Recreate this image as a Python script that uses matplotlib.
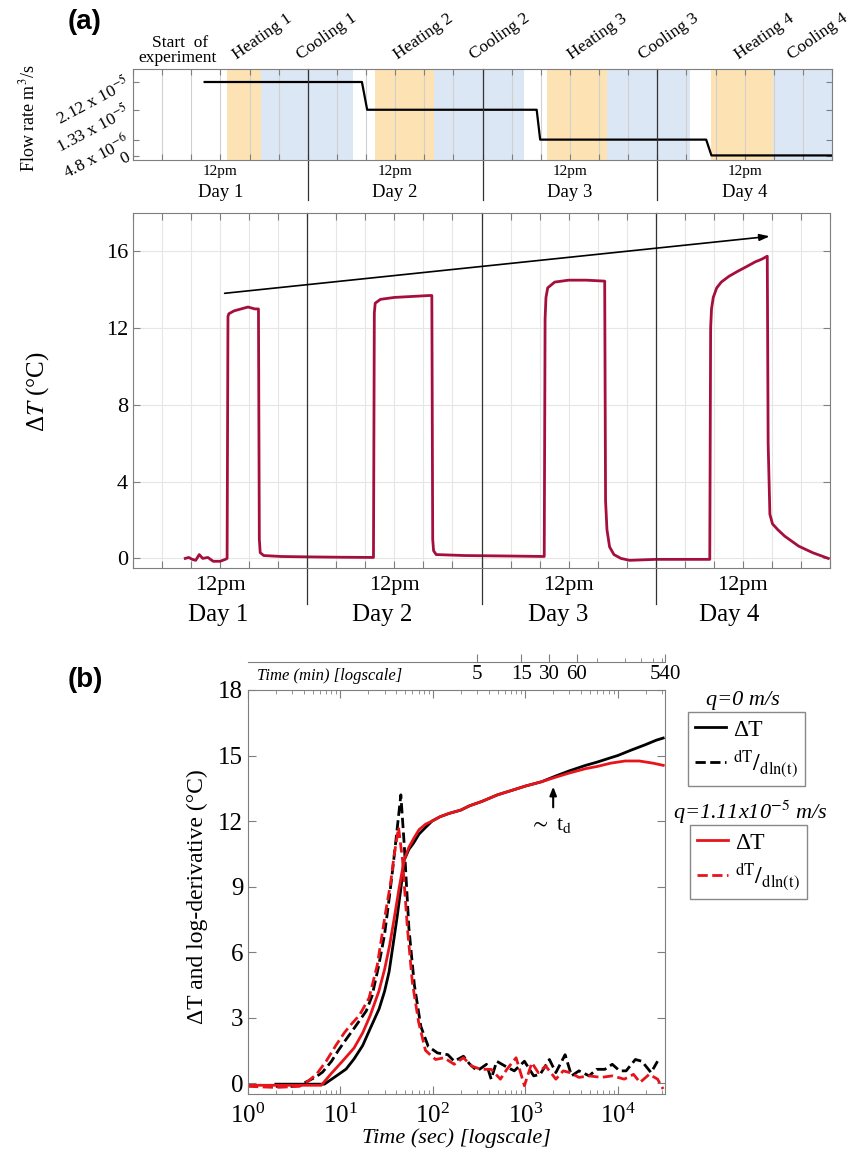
import numpy as np
import matplotlib.pyplot as plt
from matplotlib.lines import Line2D
from matplotlib.ticker import NullFormatter

plt.rcParams['font.family'] = ['Liberation Serif', 'DejaVu Serif']
plt.rcParams['mathtext.fontset'] = 'stix'

# ---------------- panel (a): time in days from start ----------------
heating = [(0.54, 0.73), (1.385, 1.72), (2.37, 2.71), (3.31, 3.66)]
cooling = [(0.73, 1.26), (1.72, 2.24), (2.71, 3.19), (3.66, 4.0)]
phase_names = ['Heating 1', 'Cooling 1', 'Heating 2', 'Cooling 2',
               'Heating 3', 'Cooling 3', 'Heating 4', 'Cooling 4']
day_names = ['Day 1', 'Day 2', 'Day 3', 'Day 4']

# flow rate, units of 1e-5 m3/s
flow_t = [0.41, 1.31, 1.34, 2.31, 2.33, 3.28, 3.31, 4.0]
flow_q = [2.12, 2.12, 1.33, 1.33, 0.48, 0.48, 0.03, 0.03]
flow_ticks = [0, 0.48, 1.33, 2.12]
flow_labels = ['0', '4.8 x 10$^{-6}$', '1.33 x 10$^{-5}$', '2.12 x 10$^{-5}$']

# temperature rise over the 4 days
dT_t = [0.30, 0.32, 0.34, 0.36, 0.38, 0.40, 0.43, 0.46, 0.50, 0.53, 0.54,
        0.545, 0.55, 0.58, 0.62, 0.66, 0.70, 0.72,
        0.725, 0.73, 0.75, 0.85, 1.0, 1.2, 1.38,
        1.385, 1.39, 1.42, 1.50, 1.60, 1.70, 1.715,
        1.72, 1.725, 1.74, 1.9, 2.2, 2.36,
        2.365, 2.37, 2.38, 2.42, 2.5, 2.6, 2.707,
        2.712, 2.72, 2.735, 2.76, 2.80, 2.85, 3.0, 3.31,
        3.315, 3.32, 3.33, 3.35, 3.376, 3.42, 3.47, 3.52, 3.57, 3.61, 3.64,
        3.645, 3.655, 3.67, 3.70, 3.74, 3.82, 3.90, 3.99]
dT_v = [0.0, 0.05, -0.05, -0.1, 0.2, 0.0, 0.05, -0.15, -0.15, -0.05, 0.0,
        12.6, 12.75, 12.9, 13.0, 13.1, 13.0, 13.0,
        1.0, 0.3, 0.15, 0.1, 0.08, 0.06, 0.05,
        12.8, 13.3, 13.5, 13.6, 13.65, 13.7, 13.7,
        1.0, 0.4, 0.2, 0.15, 0.12, 0.1,
        12.5, 13.6, 14.1, 14.4, 14.5, 14.5, 14.45,
        3.0, 1.5, 0.6, 0.2, 0.0, -0.1, -0.05, -0.05,
        12.0, 13.0, 13.6, 14.1, 14.4, 14.7, 14.96, 15.2, 15.45, 15.6, 15.75,
        6.0, 2.3, 1.8, 1.5, 1.16, 0.64, 0.3, 0.0]

# ---------------- panel (b): time in seconds ----------------
t_dT0 = [2, 3, 4, 5, 6.7, 8.5, 11.5, 14, 17.4, 21, 26.2, 30, 33.6, 37, 41, 45,
         48.8, 55, 62, 70.7, 83, 98, 120, 150, 200, 250, 340, 500, 710, 1000,
         1500, 2100, 3000, 4500, 6000, 8400, 10000, 14000, 20000, 26000, 31000]
v_dT0 = [-0.05, -0.05, -0.05, -0.05, -0.05, 0.25, 0.64, 1.1, 1.72, 2.5, 3.4,
         4.2, 5.1, 6.3, 7.6, 8.9, 10.2, 10.7, 11.0, 11.4, 11.7, 12.0, 12.2,
         12.35, 12.5, 12.7, 12.9, 13.2, 13.4, 13.6, 13.8, 14.05, 14.3, 14.55,
         14.7, 14.9, 15.0, 15.25, 15.5, 15.7, 15.8]

t_der0 = [2, 3, 3.6, 4.5, 5.5, 6.4, 8, 9.5, 11.5, 14, 19, 22, 26, 30, 34, 37,
          40, 45, 49, 55, 63, 74, 89, 112, 145, 170, 214, 251, 302, 380, 427,
          490, 603, 759, 977, 1230, 1445, 1820, 2138, 2692, 3162, 3802, 4898,
          5888, 7244, 8710, 10471, 12303, 15488, 18197, 22909, 26915]
v_der0 = [-0.15, -0.15, -0.1, 0.1, 0.3, 0.5, 1.0, 1.5, 2.0, 2.5, 3.3, 4.0,
          5.4, 6.8, 8.6, 9.9, 11.2, 13.2, 10.9, 7.1, 4.5, 2.6, 1.68, 1.38,
          1.3, 1.0, 1.23, 0.86, 0.56, 0.86, 0.18, 1.0, 0.78, 0.56, 1.0, 0.33,
          0.4, 1.08, 0.48, 1.3, 0.33, 0.56, 0.33, 0.63, 0.63, 0.86, 0.56,
          0.56, 1.08, 1.0, 0.48, 1.0]

t_dTq = [1, 2, 4, 6.2, 8, 10.5, 14, 17.4, 21, 26, 30, 34, 38, 43, 48.8, 55,
         62, 70.7, 83, 98, 120, 150, 200, 250, 340, 500, 710, 1000, 1500,
         2100, 3000, 4500, 6000, 8400, 12000, 17000, 24000, 31000]
v_dTq = [-0.1, -0.1, -0.1, -0.1, 0.45, 1.0, 1.6, 2.3, 3.1, 4.2, 5.2, 6.3,
         7.5, 8.9, 10.2, 10.8, 11.2, 11.6, 11.85, 12.0, 12.2, 12.35, 12.5,
         12.7, 12.9, 13.2, 13.4, 13.6, 13.8, 14.0, 14.2, 14.4, 14.5, 14.65,
         14.75, 14.75, 14.65, 14.55]

t_derq = [1, 2, 3.6, 4.5, 5.5, 7, 9, 11, 12.5, 16, 20.4, 25, 31, 35, 38, 42.5,
          47, 53, 60, 70, 83, 89, 107, 132, 170, 214, 263, 331, 427, 537, 631,
          794, 977, 1175, 1380, 1660, 2138, 2570, 3020, 3802, 4898, 6607,
          8710, 11749, 14791, 17378, 21878, 26915, 30903]
v_derq = [-0.15, -0.2, -0.15, 0.1, 0.4, 1.0, 1.75, 2.3, 2.6, 3.1, 3.9, 5.4,
          7.9, 9.2, 10.4, 11.7, 10.2, 7.1, 4.6, 2.8, 1.5, 1.38, 1.08, 1.16,
          0.86, 1.16, 0.78, 0.63, 0.63, 0.18, 0.63, 1.16, -0.12, 0.93, 0.48,
          0.78, 0.18, 0.56, 0.48, 0.26, 0.33, 0.26, 0.33, 0.18, 0.4, 0.03,
          0.4, 0.18, -0.27]

min_ticks = [5, 15, 30, 60, 540]
min_minor = [100, 200, 300, 400, 500]

orange = '#FDE3B3'
blue = '#DCE7F5'
crimson = '#A50F3D'
spine = '#7f7f7f'

W, H = 852, 1158
fig = plt.figure(figsize=(W / 100, H / 100), dpi=100)


def box(l, t, r, b):
    return [l / W, 1 - b / H, (r - l) / W, (b - t) / H]


def fx(px):
    return px / W


def fy(py):
    return 1 - py / H


# ---------- flow rate strip ----------
ax1 = fig.add_axes(box(133, 69, 832, 160))
for a, b in heating:
    ax1.axvspan(a, b, color=orange, lw=0)
for a, b in cooling:
    ax1.axvspan(a, b, color=blue, lw=0)
ax1.plot(flow_t, flow_q, color='k', lw=1.6)
ax1.set_xlim(0, 4)
ax1.set_ylim(-0.1, 2.49)
ax1.set_xticks(np.arange(0, 4.01, 1 / 6))
ax1.set_xticklabels([])
ax1.grid(axis='x', color='#d0d0d0', lw=0.8)
ax1.set_yticks(flow_ticks)
ax1.set_yticklabels(flow_labels, rotation=28, ha='right', va='center',
                    rotation_mode='anchor', fontsize=12.5)
ax1.tick_params(direction='in', top=True, right=True, length=4, color=spine, pad=3)
for s in ax1.spines.values():
    s.set_color(spine)
for d in [1, 2, 3]:
    ax1.axvline(d, ymin=-0.44, ymax=1, color='#333333', lw=0.9, clip_on=False)
for i in range(4):
    ax1.text(i + 0.5, -0.13, '12pm', transform=ax1.get_xaxis_transform(),
             ha='center', va='center', fontsize=11)
    ax1.text(i + 0.5, -0.36, day_names[i], transform=ax1.get_xaxis_transform(),
             ha='center', va='center', fontsize=13.5)
fig.text(fx(28), fy(118), 'Flow rate m$^3$/s', rotation=90, ha='center',
         va='center', fontsize=13)
fig.text(fx(180), fy(43), 'Start  of', ha='center', va='center', fontsize=12.5)
fig.text(fx(178), fy(58), 'experiment', ha='center', va='center', fontsize=12.5)
phase_px = [262, 327, 423, 500, 597, 669, 764, 818]
for name, px in zip(phase_names, phase_px):
    fig.text(fx(px), fy(37), name, rotation=35, ha='center', va='center',
             fontsize=12.5)
fig.text(fx(85), fy(22), '(a)', family='Liberation Sans', weight='bold',
         ha='center', va='center', fontsize=20)

# ---------- temperature over 4 days ----------
ax2 = fig.add_axes(box(133, 213, 830, 568))
ax2.plot(dT_t, dT_v, color=crimson, lw=2.0)
ax2.set_xlim(0, 4)
ax2.set_ylim(-0.5, 18)
ax2.set_xticks(np.arange(0, 4.01, 1 / 6))
ax2.set_xticklabels([])
ax2.set_yticks([0, 4, 8, 12, 16])
ax2.grid(color='#e6e6e6', lw=0.8)
ax2.tick_params(direction='in', top=True, right=True, length=5, color=spine,
                labelsize=16)
for s in ax2.spines.values():
    s.set_color(spine)
for d in [1, 2, 3]:
    ax2.axvline(d, ymin=-0.1, ymax=1, color='#333333', lw=0.9, clip_on=False)
day_px2 = [0.49, 1.43, 2.44, 3.42]
for i in range(4):
    ax2.text(i + 0.5, -0.048, '12pm', transform=ax2.get_xaxis_transform(),
             ha='center', va='center', fontsize=16)
    ax2.text(day_px2[i], -0.132, day_names[i], transform=ax2.get_xaxis_transform(),
             ha='center', va='center', fontsize=18)
ax2.annotate('', xy=(3.67, 16.8), xytext=(0.51, 13.8),
             arrowprops=dict(arrowstyle='-|>,head_length=0.6,head_width=0.2',
                             color='k', lw=1.2))
fig.text(fx(38), fy(392), 'Δ$T$ (°C)', rotation=90, ha='center', va='center',
         fontsize=18)

# ---------- log-time plot ----------
ax3 = fig.add_axes(box(248, 690, 665, 1094))
ax3.plot(t_dT0, v_dT0, color='k', lw=2)
ax3.plot(t_der0, v_der0, color='k', lw=2, ls='--')
ax3.plot(t_dTq, v_dTq, color='#E8141B', lw=2)
ax3.plot(t_derq, v_derq, color='#E8141B', lw=2, ls='--')
ax3.set_xscale('log')
ax3.set_xlim(1, 32400)
ax3.set_ylim(-0.5, 18)
ax3.set_yticks(np.arange(0, 19, 3))
ax3.tick_params(which='both', direction='in', top=True, right=True, color=spine,
                labelsize=18)
ax3.tick_params(axis='x', which='major', pad=7)
ax3.tick_params(which='major', length=6)
ax3.tick_params(which='minor', length=3)
for s in ax3.spines.values():
    s.set_color(spine)
ax3.set_xlabel('Time (sec) [logscale]', style='italic', fontsize=16, labelpad=0)
ax3.annotate('', xy=(2000, 13.7), xytext=(2000, 12.5),
             arrowprops=dict(arrowstyle='-|>,head_length=0.5,head_width=0.2',
                             color='k', lw=1.5))
ax3.text(1900, 11.8, r'$\sim$ t$_{\rm d}$', ha='center', va='center', fontsize=16)
fig.text(fx(197), fy(897), 'ΔT and log-derivative (°C)', rotation=90,
         ha='center', va='center', fontsize=17)
fig.text(fx(85), fy(680), '(b)', family='Liberation Sans', weight='bold',
         ha='center', va='center', fontsize=20)

# minutes axis above
axm = fig.add_axes(box(248, 661, 665, 662))
axm.set_xscale('log')
axm.set_xlim(1 / 60, 540)
axm.set_yticks([])
for k in ['top', 'left', 'right']:
    axm.spines[k].set_visible(False)
axm.spines['bottom'].set_color(spine)
axm.patch.set_alpha(0)
axm.set_xticks(min_ticks)
axm.set_xticklabels([str(m) for m in min_ticks])
axm.set_xticks(min_minor, minor=True)
axm.xaxis.set_minor_formatter(NullFormatter())
axm.tick_params(which='both', direction='in', color=spine, labelsize=15, pad=2)
axm.tick_params(which='major', length=6)
axm.tick_params(which='minor', length=3)
fig.text(fx(257), fy(676), 'Time (min) [logscale]', style='italic',
         ha='left', va='center', fontsize=12)

# legends
der_label = r'$^{\mathrm{dT}}/_{\mathrm{dln(t)}}$'
h0 = [Line2D([], [], color='k', lw=2), Line2D([], [], color='k', lw=2, ls='--')]
hq = [Line2D([], [], color='#E8141B', lw=2),
      Line2D([], [], color='#E8141B', lw=2, ls='--')]
leg_kw = dict(loc='upper left', bbox_transform=fig.transFigure, fancybox=False,
              edgecolor='#888888', borderaxespad=0, handlelength=1.3,
              handletextpad=0.3, fontsize=17, borderpad=0.3, labelspacing=0.3,
              framealpha=1)
leg1 = ax3.legend(h0, ['ΔT', der_label], bbox_to_anchor=(fx(688), fy(712)), **leg_kw)
leg1.get_frame().set_linewidth(1.0)
ax3.add_artist(leg1)
leg2 = ax3.legend(hq, ['ΔT', der_label], bbox_to_anchor=(fx(690), fy(825)), **leg_kw)
leg2.get_frame().set_linewidth(1.0)
fig.text(fx(743), fy(700), 'q=0 m/s', style='italic', ha='center', va='center',
         fontsize=16)
fig.text(fx(750), fy(812), 'q=1.11x10$^{-5}$ m/s', style='italic', ha='center',
         va='center', fontsize=16)

plt.savefig('out.png', dpi=100)
